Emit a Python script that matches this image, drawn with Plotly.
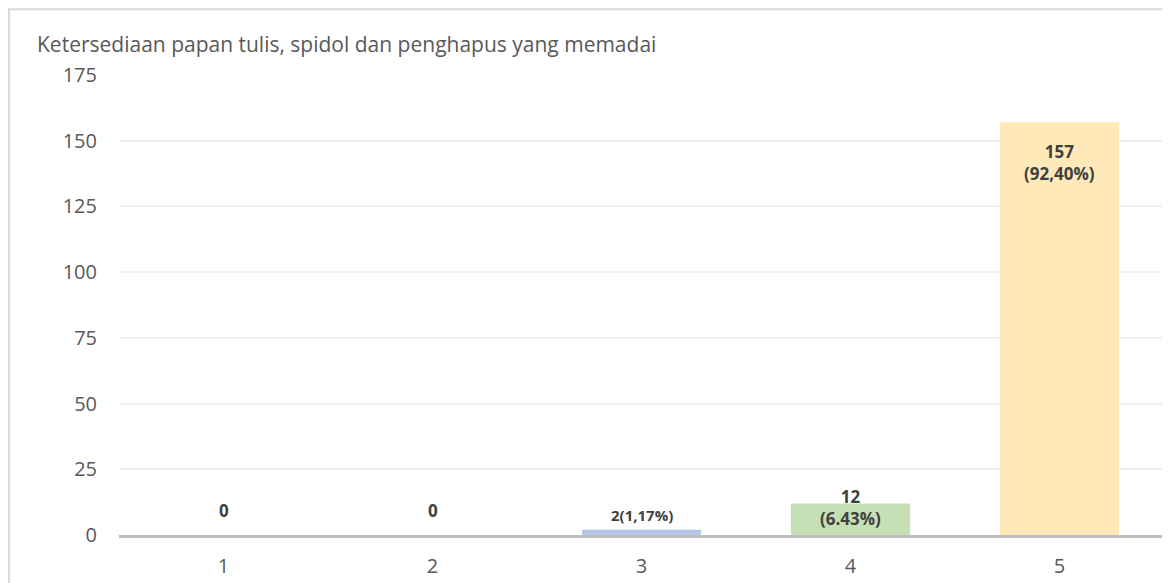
import plotly.graph_objects as go

categories = ["1", "2", "3", "4", "5"]
values = [0, 0, 2, 12, 157]
labels = ["<b>0</b>", "<b>0</b>", "<b>2(1,17%)</b>", "<b>12<br>(6.43%)</b>", "<b>157<br>(92,40%)</b>"]
label_shift = [25, 25, 15, -4, -40]
label_size = [17, 17, 15, 17, 17]
colors = ["#b4c7e7", "#b4c7e7", "#b4c7e7", "#c5e0b4", "#ffe9b8"]
y_ticks = [0, 25, 50, 75, 100, 125, 150, 175]
title_text = "Ketersediaan papan tulis, spidol dan penghapus yang memadai"

fig = go.Figure()
fig.add_trace(go.Bar(
    x=categories, y=values,
    marker=dict(color=colors, line=dict(width=0)),
    width=0.57,
    hoverinfo="x+y",
))

for i, (v, t, s, fs) in enumerate(zip(values, labels, label_shift, label_size)):
    fig.add_annotation(
        x=i, y=v, text=t, showarrow=False, yshift=s,
        font=dict(family="Open Sans", size=fs, color="#404040"),
        yanchor="middle",
    )

fig.add_annotation(
    xref="paper", yref="paper", x=-0.0804, y=1.067, xanchor="left", yanchor="middle",
    text=title_text, showarrow=False,
    font=dict(family="Open Sans", size=21, color="#595959"),
)

# chart-area border
fig.add_shape(type="rect", xref="paper", yref="paper",
              x0=-0.1052, x1=1.2, y0=-0.3, y1=1.143,
              line=dict(color="#d9d9d9", width=2), fillcolor="rgba(0,0,0,0)", layer="below")

fig.update_layout(
    width=1170, height=583,
    margin=dict(l=111, r=14, t=67, b=52),
    paper_bgcolor="white", plot_bgcolor="white",
    showlegend=False,
    font=dict(family="Open Sans", color="#595959"),
)
fig.update_yaxes(
    range=[0, 175], tickvals=y_ticks, showgrid=True, gridcolor="#f0f0f0", gridwidth=1.5,
    zeroline=False, showline=False, ticks="", ticklabelstandoff=21,
    tickfont=dict(family="Open Sans", size=20, color="#595959"),
)
fig.update_xaxes(
    type="category", range=[-0.5, 4.5],
    showline=True, linecolor="#bfbfbf", linewidth=3, ticks="", showgrid=False,
    ticklabelstandoff=11,
    tickfont=dict(family="Open Sans", size=20, color="#595959"),
)

fig.write_html("out.html")
